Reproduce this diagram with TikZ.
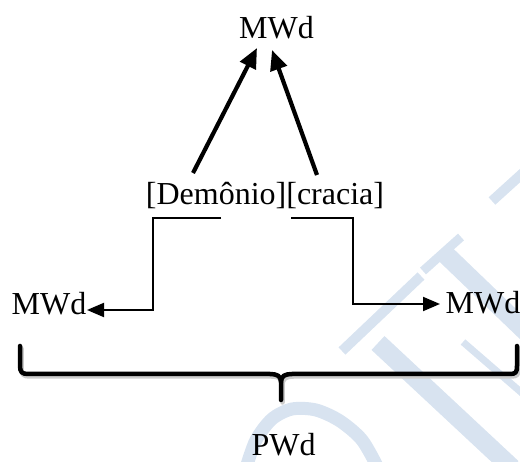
\documentclass[tikz,border=0pt]{standalone}
\usepackage{fontspec}
\setmainfont{Liberation Serif}
\usetikzlibrary{arrows.meta}
\definecolor{wm}{RGB}{216,227,240}
\begin{document}
\begin{tikzpicture}[x=1pt,y=-1pt,
  lbl/.style={font=\fontsize{32}{38}\selectfont, anchor=base, inner sep=0pt},
  bigarrow/.style={line width=4.2pt,-{Triangle[length=20pt,width=17pt]}},
  elbow/.style={line width=2pt,-{Triangle[length=17pt,width=14pt]}},
  bracepath/.style={line width=4.5pt, line cap=round, line join=round},
  wmk/.style={draw=wm, line cap=butt}]
\useasboundingbox (0,0) rectangle (520,462);
% watermark
\begin{scope}
\clip (0,0) rectangle (520,462);
\draw[wmk, line width=9pt] (423,271) -- (461,237);
\draw[wmk, line width=19pt] (441,250) -- (545,350);
\draw[wmk, line width=10pt] (342,351) -- (421,276);
\draw[wmk, line width=19pt] (378,343) -- (512,468);
\draw[wmk, line width=7pt] (463,342) -- (530,400);
\draw[wmk, line width=10pt] (492,201) -- (524,172);
\draw[wmk, line width=13pt] plot[smooth] coordinates {(246,468) (256,440) (272,419) (292,409) (316,410) (340,421) (362,440) (378,468)};
\end{scope}
% labels
\node[lbl] (top) at (276.5,39) {MWd};
\node[lbl] (mid) at (265,205) {[Demônio][cracia]};
\node[lbl] (left) at (49,315) {MWd};
\node[lbl] (right) at (483,314) {MWd};
\node[lbl] (pwd) at (283.5,456) {PWd};
% connector points
\coordinate (la) at (193,173);
\coordinate (lt) at (257,48);
\coordinate (ra) at (317,175);
\coordinate (rt) at (272,50);
\coordinate (e1) at (221,218);
\coordinate (e2) at (153,218);
\coordinate (e3) at (153,310);
\coordinate (e4) at (87,310);
\coordinate (f1) at (291,218);
\coordinate (f2) at (353,218);
\coordinate (f3) at (353,304);
\coordinate (f4) at (440,304);
% arrows
\draw[bigarrow] (la) -- (lt);
\draw[bigarrow] (ra) -- (rt);
\draw[elbow] (e1) -- (e2) -- (e3) -- (e4);
\draw[elbow] (f1) -- (f2) -- (f3) -- (f4);
% brace with soft shadow
\begin{scope}[shift={(1.5,2.5)}]
\draw[bracepath, draw=black!20] (20,346) -- (20,366) .. controls (20,372) and (22,374) .. (28,374) -- (270,374) .. controls (277,374) and (281,376) .. (281,382) -- (281,400);
\draw[bracepath, draw=black!20] (281,382) .. controls (281,376) and (285,374) .. (292,374) -- (510,374) .. controls (516,374) and (517,372) .. (517,366) -- (517,346);
\end{scope}
\draw[bracepath] (20,346) -- (20,366) .. controls (20,372) and (22,374) .. (28,374) -- (270,374) .. controls (277,374) and (281,376) .. (281,382) -- (281,400);
\draw[bracepath] (281,382) .. controls (281,376) and (285,374) .. (292,374) -- (510,374) .. controls (516,374) and (517,372) .. (517,366) -- (517,346);
\end{tikzpicture}
\end{document}
